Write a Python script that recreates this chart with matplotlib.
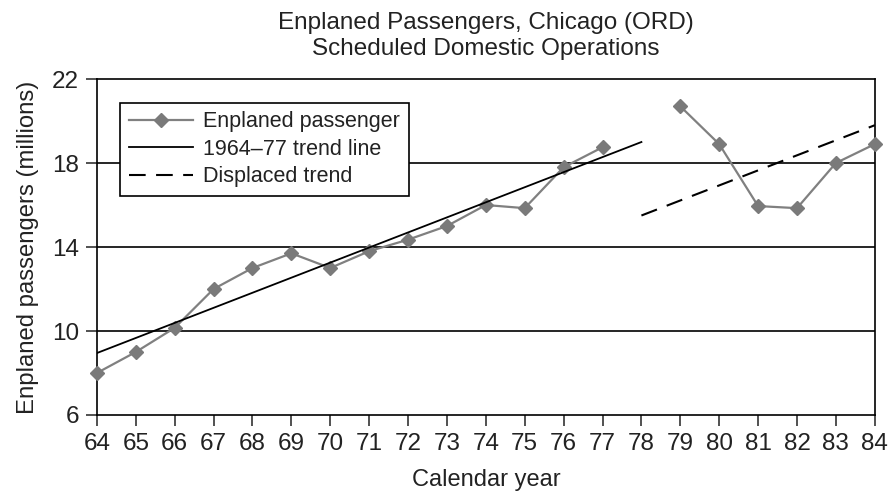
import matplotlib.pyplot as plt

plt.rcParams['font.family'] = ['Liberation Sans', 'DejaVu Sans']

# enplaned passengers, millions
years_a = [64, 65, 66, 67, 68, 69, 70, 71, 72, 73, 74, 75, 76, 77]
pass_a = [8.0, 9.0, 10.15, 12.0, 13.0, 13.7, 13.0, 13.8, 14.35, 15.0, 16.0, 15.85, 17.8, 18.75]
years_b = [79, 80, 81, 82, 83, 84]
pass_b = [20.7, 18.9, 15.95, 15.85, 18.0, 18.9]

# trend lines (end points)
trend_x = [64, 78]
trend_y = [8.95, 19.0]
disp_x = [78, 84]
disp_y = [15.5, 19.8]

fig = plt.figure(figsize=(8.89, 4.97), dpi=100)
ax = fig.add_axes([0.109, 0.165, 0.875, 0.676])

gray = '#808080'
ax.plot(years_a, pass_a, color=gray, lw=1.6, marker='D', ms=7, mfc='#7a7a7a', mec='#7a7a7a',
        label='Enplaned passenger', zorder=3, clip_on=False)
ax.plot(years_b, pass_b, color=gray, lw=1.6, marker='D', ms=7, mfc='#7a7a7a', mec='#7a7a7a',
        zorder=3, clip_on=False)
ax.plot(trend_x, trend_y, color='black', lw=1.3, label='1964\u201377 trend line', zorder=4)
ax.plot(disp_x, disp_y, color='black', lw=1.5, ls=(0, (8, 5)), label='Displaced trend', zorder=4)

for v in [10, 14, 18]:
    ax.axhline(v, color='black', lw=1.2, zorder=1)

ax.set_xlim(64, 84)
ax.set_ylim(6, 22)
ax.set_xticks(range(64, 85))
ax.set_yticks([6, 10, 14, 18, 22])
ax.tick_params(direction='out', length=8, width=1.1, labelsize=17.5, colors='#222222', pad=5)
for s in ax.spines.values():
    s.set_linewidth(1.2)

ax.set_xlabel('Calendar year', fontsize=17, labelpad=10, color='#222222')
ax.set_ylabel('Enplaned passengers (millions)', fontsize=17.2, labelpad=9, color='#222222')
fig.suptitle('Enplaned Passengers, Chicago (ORD)\nScheduled Domestic Operations',
             fontsize=17.5, x=0.546, y=0.976, linespacing=1.25, color='#222222')

leg = ax.legend(loc='upper left', bbox_to_anchor=(0.03, 0.93), fontsize=15.5, frameon=True,
                fancybox=False, edgecolor='black', framealpha=1, handlelength=3.0,
                borderpad=0.4, labelspacing=0.3, handletextpad=0.45, borderaxespad=0)
leg.get_frame().set_linewidth(1.2)
for t in leg.get_texts():
    t.set_color('#222222')

fig.savefig('out.png', dpi=100)
